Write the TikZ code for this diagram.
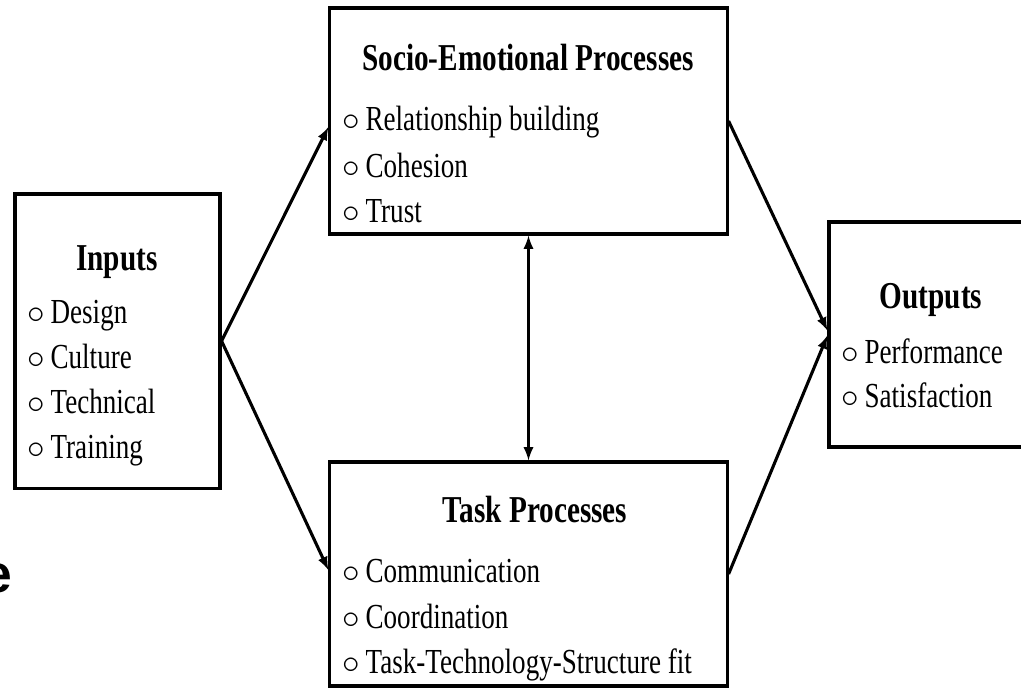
\documentclass[tikz,border=0pt]{standalone}
\usepackage{fontspec}
\setmainfont{Liberation Serif}[FakeStretch=0.77]
\newfontfamily\sansfont{Liberation Sans}
\usepackage{tikz}
\usetikzlibrary{arrows}

\newcommand{\bul}{$\circ$\,}

\tikzset{
  box/.style={draw, line width=2.2pt, inner sep=0pt},
  head/.style={anchor=base, inner sep=0pt, font=\bfseries\fontsize{27}{30}\selectfont},
  item/.style={anchor=base west, inner sep=0pt, font=\fontsize{25}{30}\selectfont},
  flow/.style={-latex, line width=2.2pt}
}

\begin{document}
\begin{tikzpicture}[x=0.025cm, y=-0.025cm]
      \useasboundingbox (0, 0) rectangle (1021, 687);
      \clip (0, 0) rectangle (1021, 687);
      % boxes
      \node[box, minimum width=5.125cm, minimum height=7.35cm] (inputs) at (117.5, 341) {};
      \node[box, minimum width=9.925cm, minimum height=5.65cm] (socio) at (528.5, 121) {};
      \node[box, minimum width=9.925cm, minimum height=5.6cm] (task) at (528.5, 574) {};
      \node[box, minimum width=5.125cm, minimum height=5.625cm] (outputs) at (931.5, 334.5) {};
      % inputs
      \node[head] (inputs-t) at (117, 270) {Inputs};
      \node[item] (design) at (27, 323) {\bul Design};
      \node[item] (culture) at (27, 368) {\bul Culture};
      \node[item] (technical) at (27, 413) {\bul Technical};
      \node[item] (training) at (27, 458) {\bul Training};
      % socio-emotional
      \node[head] (socio-t) at (528, 70) {Socio-Emotional Processes};
      \node[item] (relation) at (342, 130) {\bul Relationship building};
      \node[item] (cohesion) at (342, 177) {\bul Cohesion};
      \node[item] (trust) at (342, 222) {\bul Trust};
      % task
      \node[head] (task-t) at (535, 522) {Task Processes};
      \node[item] (communication) at (342, 582) {\bul Communication};
      \node[item] (coordination) at (342, 628) {\bul Coordination};
      \node[item] (ttsfit) at (342, 673) {\bul Task-Technology-Structure fit};
      % outputs
      \node[head] (outputs-t) at (931, 308) {Outputs};
      \node[item] (performance) at (841, 363) {\bul Performance};
      \node[item] (satisfaction) at (841, 407) {\bul Satisfaction};
      % stray letter
      \node[anchor=base east, inner sep=0pt, font=\sansfont\bfseries\fontsize{38}{40}\selectfont] (stray) at (12, 592) {e};
      % arrows
      \draw[flow] (inputs.east) -- ([yshift=-6*0.025cm]socio.west);
      \draw[flow] (inputs.east) -- ([yshift=4*0.025cm]task.west);
      \draw[flow] (socio.east) -- ([yshift=4*0.025cm]outputs.west);
      \draw[flow] (task.east) -- ([yshift=-1*0.025cm]outputs.west);
      \draw[latex-latex, line width=2.2pt] (socio.south) -- (task.north);
    \end{tikzpicture}
\end{document}
